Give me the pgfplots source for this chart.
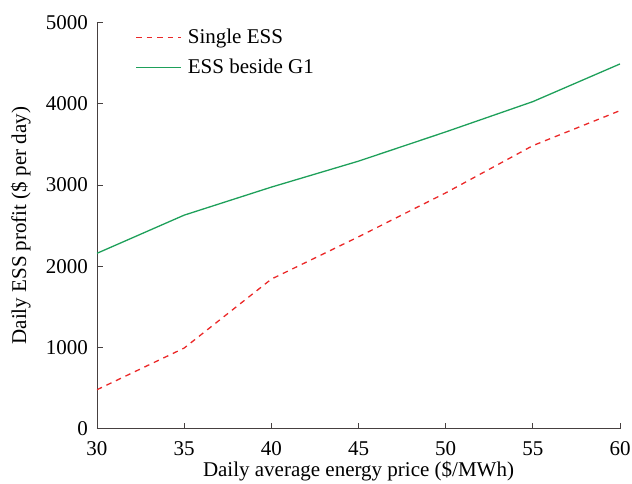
\documentclass[border=0pt]{standalone}
\usepackage{fontspec}
\setmainfont{Liberation Serif}
\usepackage{pgfplots}
\pgfplotsset{compat=1.18}
\definecolor{essred}{RGB}{235,40,40}
\definecolor{essgreen}{RGB}{30,160,90}
\definecolor{axgray}{RGB}{70,64,64}
\begin{document}
\fontsize{21}{24}\selectfont
\begin{tikzpicture}
\begin{axis}[
  scale only axis,
  width=523pt, height=406pt,
  xmin=30, xmax=60, ymin=0, ymax=5000,
  xtick={30,35,...,60}, ytick={0,1000,...,5000},
  axis x line*=bottom, axis y line*=left,
  axis line style={axgray, line width=0.9pt},
  every outer x axis line/.append style={-},
  every outer y axis line/.append style={-},
  x tick style={axgray, line width=0.9pt},
  y tick style={axgray, line width=0.9pt},
  xtick align=inside, ytick align=inside,
  major tick length=6pt,
  /pgf/number format/assume math mode=true,
  /pgf/number format/1000 sep={},
  tick label style={font=\fontsize{21}{24}\selectfont},
  xticklabel style={yshift=-6pt},
  yticklabel style={xshift=-2pt},
  label style={font=\fontsize{21}{24}\selectfont},
  xlabel={Daily average energy price (\$/MWh)},
  ylabel={Daily ESS profit (\$ per day)},
  xlabel style={yshift=9pt},
  ylabel style={yshift=1pt},
  legend cell align=left,
  legend style={draw=none, fill=none, at={(0.0676,0.995)}, anchor=north west,
    font=\fontsize{21}{24}\selectfont, row sep=8pt, column sep=4pt},
  legend image code/.code={\draw[#1] (0pt,0pt) -- (45pt,0pt);},
]
\coordinate (bl) at (rel axis cs:0,0);
\coordinate (tr) at (rel axis cs:1,1);
\addlegendimage{draw=essred, line width=1.3pt, dash pattern=on 5.5pt off 5pt}
\addlegendentry{Single ESS}
\addlegendimage{draw=essgreen, line width=1.3pt}
\addlegendentry{ESS beside G1}
\addplot[forget plot, draw=essred, line width=1.3pt, dash pattern=on 5.5pt off 5pt] coordinates {
 (30,480) (35,993) (40,1842) (45,2363) (50,2904) (55,3486) (60,3917)};
\addplot[forget plot, draw=essgreen, line width=1.3pt] coordinates {
 (30,2160) (35,2630) (40,2975) (45,3295) (50,3655) (55,4028) (60,4492)};
\end{axis}
\pgfresetboundingbox
\path[use as bounding box] ([shift={(-97pt,-55pt)}]bl) rectangle ([shift={(12pt,22.7pt)}]tr);
\end{tikzpicture}
\end{document}
